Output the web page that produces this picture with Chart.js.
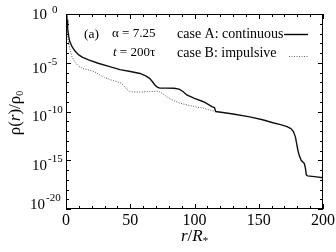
<!DOCTYPE html>
<html><head><meta charset="utf-8">
<script src="https://cdn.jsdelivr.net/npm/chart.js@4"></script>
<style>html,body{margin:0;padding:0;background:#fff}#c{display:block}</style>
</head><body>
<canvas id="c" width="336" height="252"></canvas>
<script>
// ---- data (r/R*, log10 of rho/rho0) ----
const rA = [0.5,0.8,1.3,2.1,3,4.7,7,9.9,13,17.6,25,34,42,50,57.6,62,65,67,69,71,73,78,84,88,91,94,100,107,111,113.5,115.5,116.5,122,130,143,153,161,167,172,175,177,178.5,179.5,180.5,181.5,183,184.5,185.5,186.3,187,188,195,200];
const expA = [0,-0.6,-1.5,-2.3,-2.85,-3.35,-3.8,-4.2,-4.45,-4.7,-5.05,-5.4,-5.7,-5.9,-6.1,-6.35,-6.6,-6.9,-7.25,-7.5,-7.6,-7.6,-7.62,-7.7,-7.95,-8.3,-8.65,-9.0,-9.3,-9.5,-9.6,-10.0,-10.1,-10.25,-10.55,-10.85,-11.15,-11.35,-11.55,-11.75,-12.05,-12.6,-13.3,-14.0,-14.5,-15.0,-15.2,-15.35,-15.8,-16.5,-16.6,-16.7,-16.8];
const rB = [0.5,0.8,1.3,2.1,3,4.7,7,9.9,13,17.6,22,25.5,30,35.8,40,43,45,47,49,52,57.6,65,72,75,78,81,85,88.7,96.5,107,112,114.6,116.5];
const expB = [0,-1.6,-2.4,-3.0,-3.6,-4.4,-4.95,-5.35,-5.6,-5.74,-5.9,-6.2,-6.5,-6.8,-6.95,-7.1,-7.35,-7.65,-7.9,-8.0,-8.0,-7.95,-7.92,-8.15,-8.45,-8.7,-8.95,-9.15,-9.4,-9.67,-9.85,-9.95,-10.0];
const xMajorTicks = [0,50,100,150,200];
const xMinorTicks = [10,20,30,40,60,70,80,90,110,120,130,140,160,170,180,190];
const yMajorExps = [0,-5,-10,-15,-20];
const yMinorExps = [-1,-2,-3,-4,-6,-7,-8,-9,-11,-12,-13,-14,-16,-17,-18,-19];
const seriesNames = ["case A: continuous", "case B: impulsive"];
const panelLabel = "(a)";
const alphaLabel = "α = 7.25";
const timeLabel = ["t", " = 200τ"];

const SERIF = '"Liberation Serif","DejaVu Serif",serif';

const overlay = {
  id: 'overlay',
  afterDraw(chart) {
    const ctx = chart.ctx, a = chart.chartArea;
    const xs = chart.scales.x, ys = chart.scales.y;
    ctx.save();
    ctx.strokeStyle = '#000'; ctx.fillStyle = '#000';
    ctx.lineWidth = 1;
    ctx.strokeRect(Math.round(a.left)+0.5, Math.round(a.top)+0.5, Math.round(a.right-a.left)-1, Math.round(a.bottom-a.top)-1);
    // ticks
    const tick = (x1,y1,x2,y2)=>{ctx.beginPath();ctx.moveTo(x1,y1);ctx.lineTo(x2,y2);ctx.stroke();};
    xMajorTicks.forEach(v=>{const x=Math.round(xs.getPixelForValue(v))+0.5; tick(x,a.bottom,x,a.bottom-5); tick(x,a.top,x,a.top+5);});
    xMinorTicks.forEach(v=>{const x=Math.round(xs.getPixelForValue(v))+0.5; tick(x,a.bottom,x,a.bottom-3); tick(x,a.top,x,a.top+3);});
    yMajorExps.forEach(e=>{const y=Math.round(ys.getPixelForValue(Math.pow(10,e)))+0.5; tick(a.left,y,a.left+5,y); tick(a.right,y,a.right-5,y);});
    yMinorExps.forEach(e=>{const y=Math.round(ys.getPixelForValue(Math.pow(10,e)))+0.5; tick(a.left,y,a.left+3,y); tick(a.right,y,a.right-3,y);});
    // x tick labels
    ctx.font = '16px ' + SERIF; ctx.textBaseline = 'middle';
    xMajorTicks.forEach(v=>{
      let x = xs.getPixelForValue(v);
      const w = ctx.measureText(String(v)).width;
      let left = x - w/2; if (left + w > 335) left = 335 - w;
      ctx.textAlign='left'; ctx.fillText(String(v), left, 221);
    });
    // y tick labels
    yMajorExps.forEach((e,i)=>{
      const y = ys.getPixelForValue(Math.pow(10,e));
      let by = y+6, ey = y-1, bx = 32;
      if (i===0){by = y+1; ey = y-4;}
      if (i===yMajorExps.length-1){by = y-4; ey = y-11; bx = 30;}
      ctx.textAlign='left';
      ctx.font = '15px ' + SERIF; ctx.fillText('10', bx, by);
      const bw = ctx.measureText('10').width;
      ctx.font = '11px ' + SERIF;
      ctx.fillText(e===0 ? '0' : ('-' + String(-e)), bx + bw + (e===0 ? 5 : 1), ey);
    });
    // x title r/R*
    ctx.textAlign='left';
    let xt = 181, yt = 237;
    ctx.font = 'italic 17px ' + SERIF; ctx.fillText('r', xt, yt); xt += ctx.measureText('r').width;
    ctx.font = '17px ' + SERIF; ctx.fillText('/', xt, yt); xt += ctx.measureText('/').width;
    ctx.font = 'italic 17px ' + SERIF; ctx.fillText('R', xt, yt); xt += ctx.measureText('R').width;
    ctx.font = '11px ' + SERIF; ctx.fillText('*', xt, yt+4);
    // y title rho(r)/rho0
    ctx.save();
    ctx.translate(16, 113); ctx.rotate(-Math.PI/2);
    const parts = [['ρ(', '17px '], ['r', 'italic 17px '], [')/ρ', '17px ']];
    let tw = 0; parts.forEach(p=>{ctx.font=p[1]+SERIF; tw+=ctx.measureText(p[0]).width;});
    ctx.font='10px '+SERIF; tw += ctx.measureText('0').width;
    let px = -tw/2;
    parts.forEach(p=>{ctx.font=p[1]+SERIF; ctx.fillText(p[0], px, 0); px += ctx.measureText(p[0]).width;});
    ctx.font='10px '+SERIF; ctx.fillText('0', px, 4);
    ctx.restore();
    // annotations
    ctx.font = '13.5px ' + SERIF; ctx.textAlign='left';
    ctx.fillText(panelLabel, 84, 34);
    ctx.font = '13px ' + SERIF;
    ctx.fillText(alphaLabel, 112, 34);
    ctx.font = 'italic 13px ' + SERIF; ctx.fillText(timeLabel[0], 113, 53);
    const tW = ctx.measureText(timeLabel[0]).width;
    ctx.font = '13px ' + SERIF; ctx.fillText(timeLabel[1], 113+tW, 53);
    // legend
    ctx.font = '14px ' + SERIF;
    ctx.fillText(seriesNames[0], 177, 34);
    ctx.fillText(seriesNames[1], 177, 53);
    ctx.lineWidth = 1.4; ctx.strokeStyle='#000';
    ctx.beginPath(); ctx.moveTo(284, 34.5); ctx.lineTo(308, 34.5); ctx.stroke();
    ctx.lineWidth = 1; ctx.strokeStyle='#666'; ctx.setLineDash([1,1.5]);
    ctx.beginPath(); ctx.moveTo(289, 56.5); ctx.lineTo(308, 56.5); ctx.stroke();
    ctx.restore();
  }
};

new Chart(document.getElementById('c'), {
  type: 'line',
  data: {
    datasets: [
      { label: seriesNames[0], data: rA.map((r,i)=>({x:r, y:Math.pow(10, expA[i])})),
        borderColor:'#111', borderWidth:1.4, pointRadius:0, tension:0, fill:false },
      { label: seriesNames[1], data: rB.map((r,i)=>({x:r, y:Math.pow(10, expB[i])})),
        borderColor:'#555', borderWidth:1, borderDash:[1,1.5], pointRadius:0, tension:0, fill:false }
    ]
  },
  options: {
    responsive:false, animation:false, devicePixelRatio:1,
    layout:{padding:{left:66, right:13, top:14, bottom:43}},
    plugins:{legend:{display:false}, tooltip:{enabled:false}},
    scales:{
      x:{type:'linear', min:0, max:200, display:false},
      y:{type:'logarithmic', min:1e-20, max:1, display:false}
    }
  },
  plugins:[overlay]
});
</script>
</body></html>
